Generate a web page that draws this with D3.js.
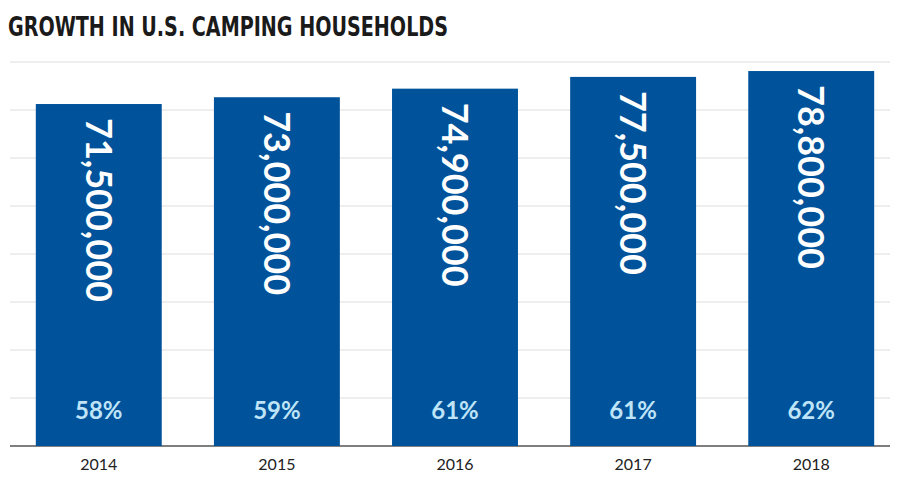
<!DOCTYPE html>
<html><head><meta charset="utf-8">
<script src="https://cdn.jsdelivr.net/npm/d3@7"></script>
<style>body{margin:0;background:#fff}</style></head>
<body><svg id="c" width="900" height="485"></svg>
<script>
const years = ["2014","2015","2016","2017","2018"];
const households = [71500000,73000000,74900000,77500000,78800000];
const shares = ["58%","59%","61%","61%","62%"];
const title = "GROWTH IN U.S. CAMPING HOUSEHOLDS";

const svg = d3.select("#c");
const x = d3.scaleBand().domain(years).range([18,892]).paddingInner(0.293).paddingOuter(0.1);
const y = d3.scaleLinear().domain([-4.2e6, 80.8e6]).range([446, 62]);

const grid = d3.range(9).map(i => y.domain()[0] + i*(y.domain()[1]-y.domain()[0])/8);
svg.append("g").selectAll("line").data(grid).join("line")
  .attr("x1",10).attr("x2",890).attr("y1",d=>y(d)).attr("y2",d=>y(d))
  .attr("stroke",(d,i)=>i===0?"#555":"#ddd").attr("stroke-width",(d,i)=>i===0?1.5:1);

svg.append("g").selectAll("rect").data(years).join("rect")
  .attr("x",d=>x(d)).attr("width",x.bandwidth())
  .attr("y",(d,i)=>y(households[i])).attr("height",(d,i)=>y.range()[0]-y(households[i]))
  .attr("fill","#00539b");

svg.append("g").selectAll("text").data(years).join("text")
  .attr("transform",(d,i)=>`translate(${x(d)+x.bandwidth()/2-13},${y(households[i])+14}) rotate(90)`)
  .attr("fill","#fff").attr("font-family","Lato, sans-serif").attr("font-weight","bold")
  .attr("font-size",36).text((d,i)=>d3.format(",")(households[i]));

svg.append("g").selectAll("text").data(years).join("text")
  .attr("x",d=>x(d)+x.bandwidth()/2).attr("y",419).attr("text-anchor","middle")
  .attr("fill","#bfe3f7").attr("font-family","Lato, sans-serif").attr("font-weight","bold")
  .attr("font-size",24).text((d,i)=>shares[i]);

const xa = svg.append("g").attr("transform","translate(0,446)")
  .call(d3.axisBottom(x).tickSize(0).tickPadding(13));
xa.select(".domain").remove();
xa.selectAll("text").attr("font-family","Lato, sans-serif").attr("font-size",16).attr("fill","#222");

svg.append("text").attr("x",8).attr("y",36).attr("fill","#1a1a1a")
  .attr("font-family","'DejaVu Sans Condensed', sans-serif").attr("font-weight","bold")
  .attr("font-size",27).attr("textLength",440).attr("lengthAdjust","spacingAndGlyphs")
  .text(title);
</script></body></html>
